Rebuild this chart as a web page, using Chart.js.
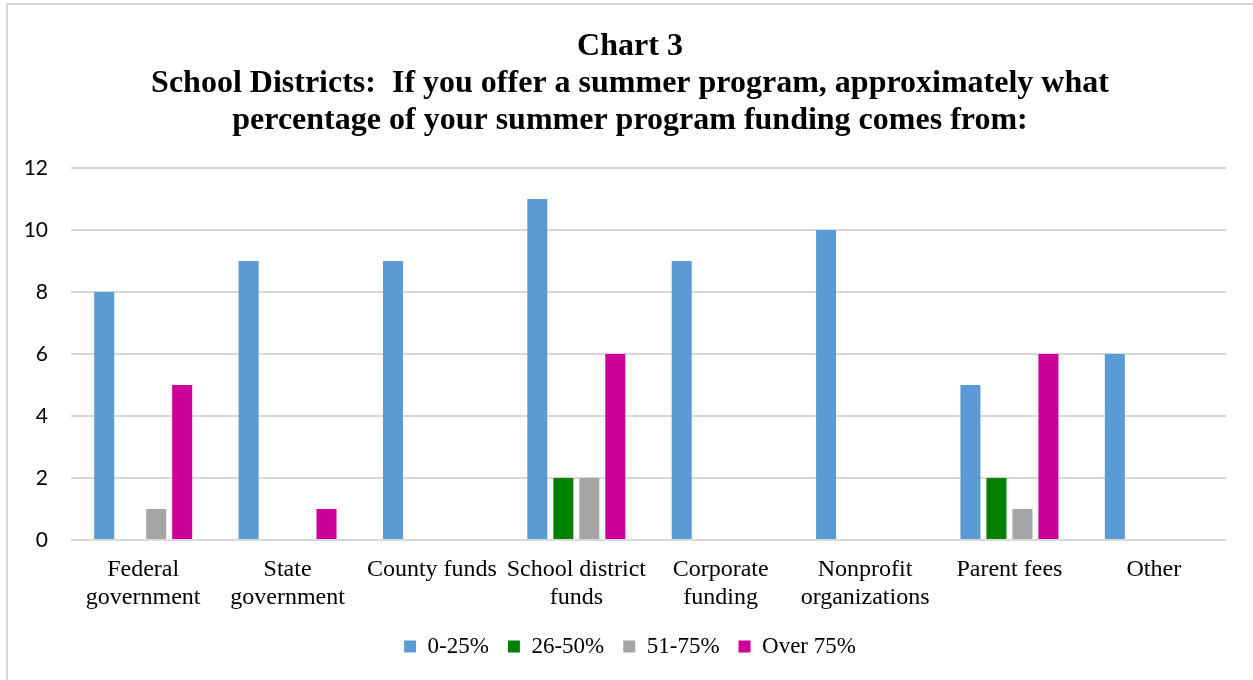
<!DOCTYPE html>
<html>
<head>
<meta charset="utf-8">
<script src="https://cdn.jsdelivr.net/npm/chart.js@4.4.0/dist/chart.umd.min.js"></script>
<style>
  html, body { margin: 0; padding: 0; background: #ffffff; overflow: hidden; }
  #frame { position: absolute; left: 6px; top: 3px; width: 1270px; height: 700px; border: 2px solid #d9d9d9; box-sizing: border-box; }
  #wrap { position: absolute; left: 0; top: 0; width: 1253px; height: 680px; }
</style>
</head>
<body>
<div id="frame"></div>
<div id="wrap"><canvas id="c" width="1253" height="680"></canvas></div>
<script>
const titleLines = [
  "Chart 3",
  "School Districts:  If you offer a summer program, approximately what",
  "percentage of your summer program funding comes from:"
];
const categories = [
  ["Federal", "government"],
  ["State", "government"],
  "County funds",
  ["School district", "funds"],
  ["Corporate", "funding"],
  ["Nonprofit", "organizations"],
  "Parent fees",
  "Other"
];
const seriesNames = ["0-25%", "26-50%", "51-75%", "Over 75%"];
const pct0to25   = [8, 9, 9, 11, 9, 10, 5, 6];
const pct26to50  = [0, 0, 0, 2, 0, 0, 2, 0];
const pct51to75  = [1, 0, 0, 2, 0, 0, 1, 0];
const pctOver75  = [5, 1, 0, 6, 0, 0, 6, 0];
const yTicks = [0, 2, 4, 6, 8, 10, 12];

const colors = ["#5B9BD5", "#008000", "#A5A5A5", "#CC0099"];
const seriesValues = [pct0to25, pct26to50, pct51to75, pctOver75];

const serif = "'Liberation Serif', 'Times New Roman', serif";

// let the y-axis labels use the room to the left of the (offset) layout box
const yLabelRoom = {
  id: 'yLabelRoom',
  afterLayout(chart) {
    const y = chart.scales.y;
    y.left = 0;
    y.width = y.right;
  }
};

new Chart(document.getElementById('c'), {
  type: 'bar',
  data: {
    labels: categories,
    datasets: seriesNames.map((name, i) => ({
      label: name,
      data: seriesValues[i],
      backgroundColor: colors[i],
      borderWidth: 0,
      categoryPercentage: 0.72,
      barPercentage: 0.77
    }))
  },
  plugins: [yLabelRoom],
  options: {
    responsive: false,
    animation: false,
    layout: { padding: { left: 34, right: 27, top: 0, bottom: 12 } },
    plugins: {
      title: {
        display: true,
        text: titleLines,
        color: '#000000',
        font: { family: serif, size: 32, weight: 'bold', lineHeight: 1.15 },
        padding: { top: 28.6, bottom: 29 }
      },
      legend: {
        position: 'bottom',
        labels: {
          color: '#000000',
          font: { family: serif, size: 23 },
          boxWidth: 12,
          boxHeight: 12,
          padding: 19
        }
      },
      tooltip: { enabled: false }
    },
    scales: {
      x: {
        grid: { display: false },
        border: { display: false },
        ticks: {
          color: '#000000',
          font: { family: serif, size: 24, lineHeight: 1.1667 },
          padding: 8,
          maxRotation: 0,
          autoSkip: false
        },
        afterFit: (s) => { s.height = 76; }
      },
      y: {
        min: 0,
        max: 12,
        afterBuildTicks: (s) => { s.ticks = yTicks.map(v => ({ value: v })); },
        grid: { color: '#d9d9d9', lineWidth: 2, drawTicks: false },
        border: { display: false },
        ticks: {
          color: '#000000',
          font: { family: "Lato, 'Liberation Sans', sans-serif", size: 21 },
          padding: 23
        },
        afterFit: (s) => { s.width = 37; }
      }
    }
  }
});
</script>
</body>
</html>
